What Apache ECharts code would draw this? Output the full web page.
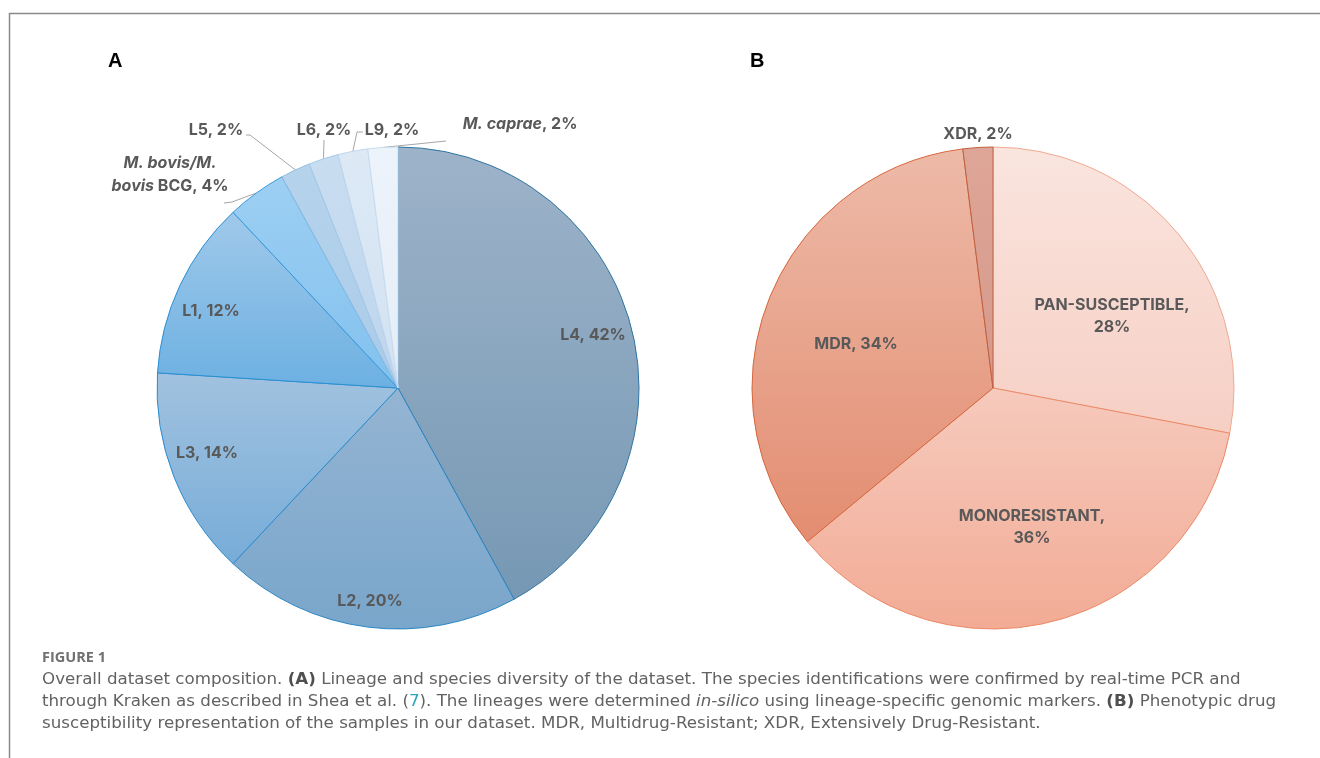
<!DOCTYPE html>
<html>
<head>
<meta charset="utf-8">
<script src="https://cdn.jsdelivr.net/npm/echarts@6/dist/echarts.min.js"></script>
<style>
  html, body { margin: 0; padding: 0; background: #ffffff; }
  #chart { width: 1320px; height: 758px; }
</style>
</head>
<body>
<div id="chart"></div>
<script>
// Panel A: lineage and species composition (% of samples)
const lineageNames = ['L4', 'L2', 'L3', 'L1', 'M. bovis/M. bovis BCG', 'L5', 'L6', 'L9', 'M. caprae'];
const lineageShares = [42, 20, 14, 12, 4, 2, 2, 2, 2];

// Panel B: phenotypic drug susceptibility (% of samples)
const phenotypeNames = ['PAN-SUSCEPTIBLE', 'MONORESISTANT', 'MDR', 'XDR'];
const phenotypeShares = [28, 36, 34, 2];

// ---- styling: [gradient top, gradient bottom, border] per slice ----
const lineageFills = [
  ['#9db3c9', '#7698b4', '#2f76a3'],
  ['#95b4d2', '#79a6cb', '#2b86c2'],
  ['#a1c2df', '#77acd8', '#2a8ccd'],
  ['#a0c9ea', '#6cb0e2', '#2a8fd3'],
  ['#9dcff3', '#82c1ee', '#3a9bdc'],
  ['#b6d3ec', '#a9cbe8', '#8fbde3'],
  ['#c9ddf0', '#bdd5ed', '#a6c9e9'],
  ['#dde9f5', '#d2e2f2', '#bcd6ee'],
  ['#edf3fa', '#e4edf7', '#c9dcf0']
];
const phenotypeFills = [
  ['#fae5df', '#f6cfc4', '#f1aa92'],
  ['#f6cabd', '#f2ab95', '#ec8a66'],
  ['#edbaa8', '#e38d71', '#d7663c'],
  ['#dea698', '#d5998a', '#c0603e']
];

const CENTER_A = [398, 388];
const CENTER_B = [993, 388];
const RADIUS = 241;

// label anchor offsets from the pie centre; optional leader-line start points
const lineagePlacement = [
  { dx: 195, dy: -53 },
  { dx: -28, dy: 213 },
  { dx: -191, dy: 65 },
  { dx: -187, dy: -77 },
  { dx: -228, dy: -213, line: [[-174, -185], [-166, -186]] },
  { dx: -182, dy: -258, line: [[-152, -253], [-148, -253]] },
  { dx: -74, dy: -258, line: [[-74, -248], [-74, -248]] },
  { dx: -6, dy: -258, line: [[-35, -256], [-41, -256]] },
  { dx: 122, dy: -264, line: [[48, -247], [48, -247]] }
];
const phenotypePlacement = [
  { dx: 119, dy: -72 },
  { dx: 39, dy: 139 },
  { dx: -137, dy: -44 },
  { dx: -15, dy: -254 }
];

const LABEL_COLOR = '#595959';
const LABEL_FONT = 'Inter, "Noto Sans", sans-serif';
const LABEL_SIZE = 16;
const CAPTION_FONT = '"DejaVu Sans", "Open Sans", sans-serif';
const CAPTION_SIZE = 16.7;
const CAPTION_COLOR = '#626262';

function grad(top, bottom) {
  return {
    type: 'linear', x: 0, y: 0, x2: 0, y2: 1,
    colorStops: [{ offset: 0, color: top }, { offset: 1, color: bottom }]
  };
}

function buildData(names, shares, fills, placement) {
  return names.map((n, i) => ({
    name: n,
    value: shares[i],
    itemStyle: { color: grad(fills[i][0], fills[i][1]), borderColor: fills[i][2], borderWidth: 1 },
    labelLine: { show: !!placement[i].line }
  }));
}

// places each label at its anchor; leader lines end on the arc at the slice's mid angle
function makeLabelLayout(center, shares, placement) {
  const total = shares.reduce((a, b) => a + b, 0);
  return function (params) {
    const i = params.dataIndex;
    const p = placement[i];
    const out = {
      x: center[0] + p.dx,
      y: center[1] + p.dy,
      align: 'center',
      verticalAlign: 'middle'
    };
    if (p.line) {
      let before = 0;
      for (let k = 0; k < i; k++) before += shares[k];
      const ang = (before + shares[i] / 2) / total * Math.PI * 2;
      const ex = center[0] + RADIUS * Math.sin(ang);
      const ey = center[1] - RADIUS * Math.cos(ang);
      out.labelLinePoints = [
        [center[0] + p.line[0][0], center[1] + p.line[0][1]],
        [center[0] + p.line[1][0], center[1] + p.line[1][1]],
        [ex, ey]
      ];
    }
    return out;
  };
}

function lineageLabel(params) {
  const n = params.name;
  const v = params.value + '%';
  if (n === 'M. bovis/M. bovis BCG') return '{i|M. bovis/M.}\n{i|bovis} BCG, ' + v;
  if (n === 'M. caprae') return '{i|M. caprae}, ' + v;
  return n + ', ' + v;
}

function phenotypeLabel(params) {
  if (params.name === 'PAN-SUSCEPTIBLE' || params.name === 'MONORESISTANT') {
    return params.name + ',\n' + params.value + '%';
  }
  return params.name + ', ' + params.value + '%';
}

const baseLabel = {
  show: true,
  position: 'outside',
  color: LABEL_COLOR,
  fontFamily: LABEL_FONT,
  fontWeight: 'bold',
  fontSize: LABEL_SIZE,
  lineHeight: 22,
  overflow: 'none',
  rich: {
    i: { fontStyle: 'italic', fontWeight: 'bold', fontSize: LABEL_SIZE, color: LABEL_COLOR, fontFamily: LABEL_FONT, lineHeight: 23 }
  }
};

const chart = echarts.init(document.getElementById('chart'), null, { renderer: 'canvas' });

const captionRich = {
  b: { fontWeight: 'bold', fill: '#505050', fontSize: CAPTION_SIZE, fontFamily: CAPTION_FONT },
  i: { fontStyle: 'italic', fill: CAPTION_COLOR, fontSize: CAPTION_SIZE, fontFamily: CAPTION_FONT },
  c: { fill: '#2aa6b8', fontSize: CAPTION_SIZE, fontFamily: CAPTION_FONT }
};
function captionLine(y, text) {
  return {
    type: 'text', left: 42, top: y, silent: true,
    style: { text: text, fill: CAPTION_COLOR, fontSize: CAPTION_SIZE, fontFamily: CAPTION_FONT, rich: captionRich }
  };
}

chart.setOption({
  animation: false,
  backgroundColor: '#ffffff',
  graphic: [
    { type: 'polyline', silent: true, shape: { points: [[9.5, 758], [9.5, 13.5], [1320, 13.5]] },
      style: { stroke: '#8a8a8a', lineWidth: 1.5, fill: null } },
    { type: 'text', left: 108, top: 51, silent: true,
      style: { text: 'A', fill: '#000000', fontSize: 20, fontWeight: 'bold', fontFamily: '"Liberation Sans", Arial, sans-serif' } },
    { type: 'text', left: 750, top: 51, silent: true,
      style: { text: 'B', fill: '#000000', fontSize: 20, fontWeight: 'bold', fontFamily: '"Liberation Sans", Arial, sans-serif' } },
    { type: 'text', left: 42, top: 650, silent: true,
      style: { text: 'FIGURE 1', fill: '#707070', fontSize: 14.5, fontWeight: 'bold', fontFamily: '"Open Sans", sans-serif' } },
    captionLine(671, 'Overall dataset composition. {b|(A)} Lineage and species diversity of the dataset. The species identifications were confirmed by real-time PCR and'),
    captionLine(693, 'through Kraken as described in Shea et al. ({c|7}). The lineages were determined {i|in-silico} using lineage-specific genomic markers. {b|(B)} Phenotypic drug'),
    captionLine(715, 'susceptibility representation of the samples in our dataset. MDR, Multidrug-Resistant; XDR, Extensively Drug-Resistant.')
  ],
  series: [
    {
      type: 'pie',
      silent: true,
      center: CENTER_A,
      radius: [0, RADIUS],
      startAngle: 90,
      clockwise: true,
      avoidLabelOverlap: false,
      label: Object.assign({}, baseLabel, { formatter: lineageLabel }),
      labelLine: { show: true, lineStyle: { color: '#a6a6a6', width: 1 } },
      labelLayout: makeLabelLayout(CENTER_A, lineageShares, lineagePlacement),
      data: buildData(lineageNames, lineageShares, lineageFills, lineagePlacement)
    },
    {
      type: 'pie',
      silent: true,
      center: CENTER_B,
      radius: [0, RADIUS],
      startAngle: 90,
      clockwise: true,
      avoidLabelOverlap: false,
      label: Object.assign({}, baseLabel, { formatter: phenotypeLabel }),
      labelLine: { show: false },
      labelLayout: makeLabelLayout(CENTER_B, phenotypeShares, phenotypePlacement),
      data: buildData(phenotypeNames, phenotypeShares, phenotypeFills, phenotypePlacement)
    }
  ]
});
</script>
</body>
</html>
